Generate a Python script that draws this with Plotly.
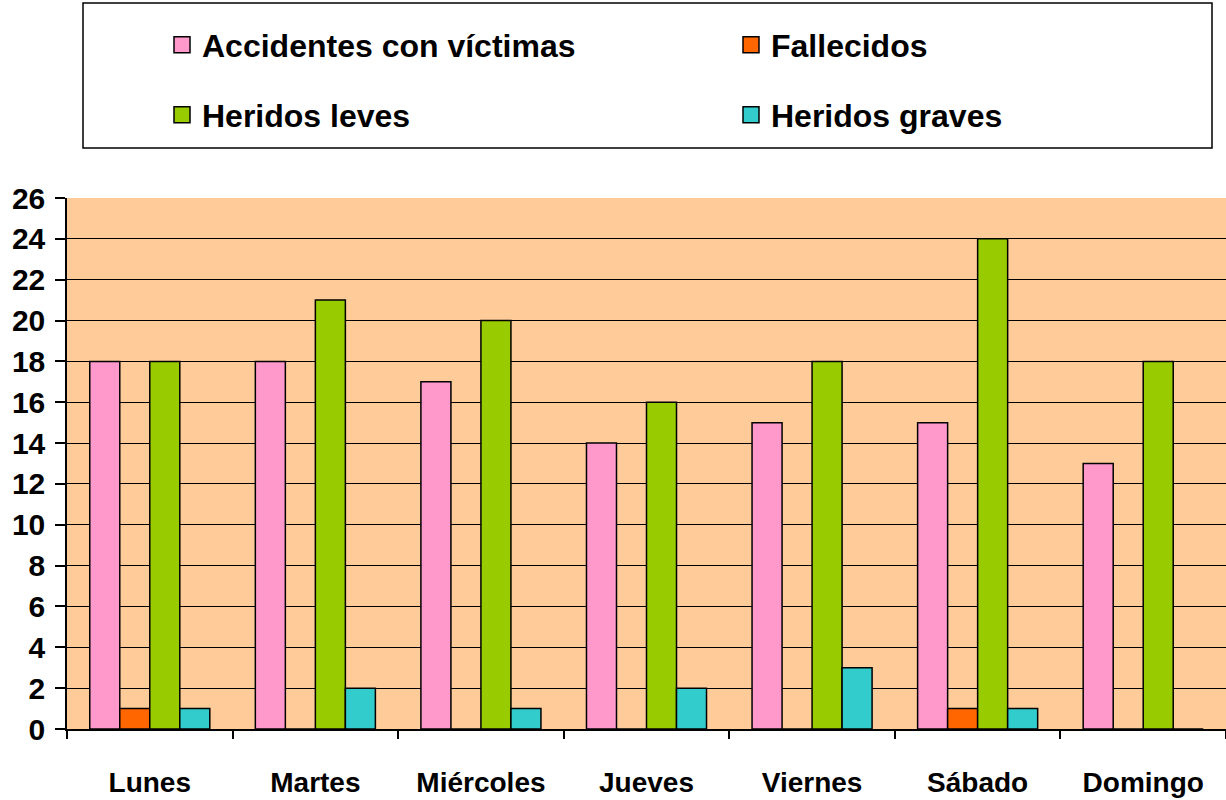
import plotly.graph_objects as go

dias = ["Lunes", "Martes", "Miércoles", "Jueves", "Viernes", "Sábado", "Domingo"]
accidentes = [18, 18, 17, 14, 15, 15, 13]
fallecidos = [1, 0, 0, 0, 0, 1, 0]
heridos_leves = [18, 21, 20, 16, 18, 24, 18]
heridos_graves = [1, 2, 1, 2, 3, 1, 0]

series = [
    ("Accidentes con víctimas", accidentes, "#FF99CC", "legend"),
    ("Fallecidos", fallecidos, "#FF6600", "legend"),
    ("Heridos leves", heridos_leves, "#99CC00", "legend2"),
    ("Heridos graves", heridos_graves, "#33CCCC", "legend2"),
]

FONT = "Liberation Sans, Arial, sans-serif"

fig = go.Figure()
for name, vals, color, leg in series:
    fig.add_trace(go.Bar(
        x=dias, y=vals, name=name, showlegend=False,
        marker=dict(color=color, line=dict(color="black", width=1.5)),
    ))
# legend entries (larger square swatches)
for name, vals, color, leg in series:
    fig.add_trace(go.Scatter(
        x=[None], y=[None], name=name, legend=leg, mode="markers",
        marker=dict(symbol="square", size=16, color=color,
                    line=dict(color="black", width=1.5)),
        hoverinfo="skip",
    ))

W, H = 1226, 800
ml, mr, mt, mb = 67, 0, 198, 71
pw, ph = W - ml - mr, H - mt - mb

def px_x(x):
    return (x - ml) / pw

def px_y(y):
    return (H - mb - y) / ph

legend_common = dict(
    orientation="h", xanchor="left", yanchor="middle",
    entrywidth=524, entrywidthmode="pixels",
    itemsizing="trace",
    font=dict(family=FONT, size=32, color="black", weight="bold"),
    bgcolor="rgba(0,0,0,0)", borderwidth=0, itemclick=False, itemdoubleclick=False,
)

fig.update_layout(
    template="none",
    width=W, height=H,
    margin=dict(l=ml, r=mr, t=mt, b=mb, autoexpand=False),
    paper_bgcolor="white",
    plot_bgcolor="#FFCC99",
    barmode="group", bargap=0.275, bargroupgap=0,
    font=dict(family=FONT, color="black"),
    legend=dict(x=px_x(162), y=px_y(45), **legend_common),
    legend2=dict(x=px_x(162), y=px_y(115), **legend_common),
    shapes=[dict(
        type="rect", xref="paper", yref="paper",
        x0=px_x(83), x1=px_x(1212), y0=px_y(148), y1=px_y(3),
        line=dict(color="black", width=1.5), fillcolor="rgba(0,0,0,0)",
        layer="above",
    )],
)

fig.update_xaxes(
    type="category", automargin=False,
    showline=True, linecolor="black", linewidth=1.5,
    ticks="outside", tickson="boundaries", ticklen=8, tickcolor="black", tickwidth=1.5,
    ticklabelstandoff=28,
    tickfont=dict(family=FONT, size=28, color="black", weight="bold"),
    showgrid=False, zeroline=False,
)
fig.update_yaxes(
    range=[0, 26], dtick=2, tick0=0, automargin=False,
    showline=True, linecolor="black", linewidth=1.5,
    ticks="outside", ticklen=10, tickcolor="black", tickwidth=1.5,
    showgrid=True, gridcolor="black", gridwidth=1,
    zeroline=False,
    tickfont=dict(family=FONT, size=30, color="black", weight="bold"),
    ticklabelstandoff=4,
)

fig.write_html(
    "out.html",
    config={"displayModeBar": False},
    post_script="document.body.style.margin='0';document.body.style.padding='0';",
)
